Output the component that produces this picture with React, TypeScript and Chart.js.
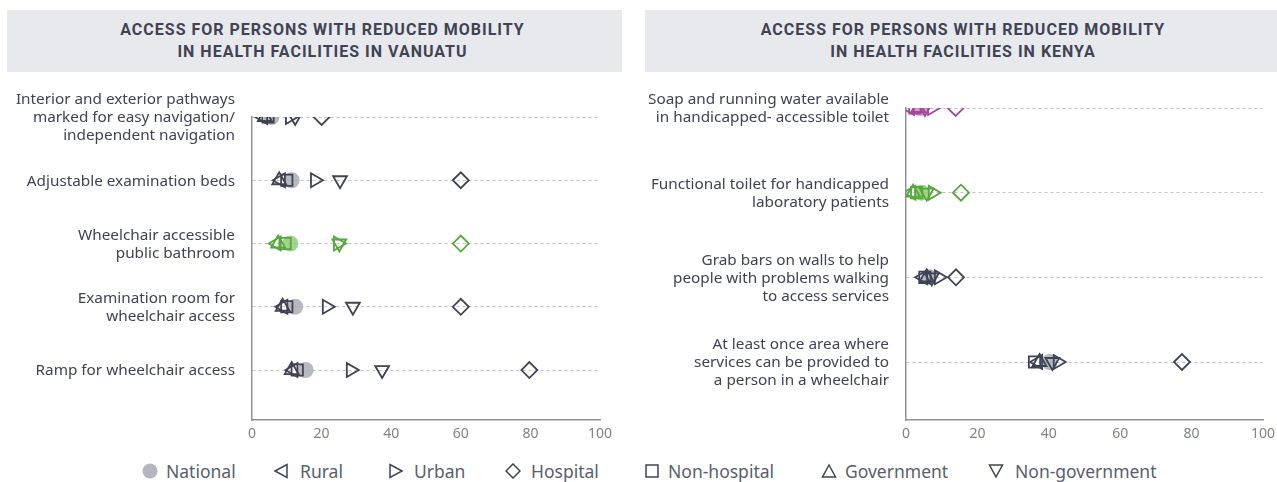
import React, { useEffect, useRef } from 'react';
import { Chart, registerables } from 'chart.js';

Chart.register(...registerables);

// ---------- Vanuatu ----------
const vanuatuCategories: (string | string[])[] = [
  ['Interior and exterior pathways', 'marked for easy navigation/', 'independent navigation'],
  'Adjustable examination beds',
  ['Wheelchair accessible', 'public bathroom'],
  ['Examination room for', 'wheelchair access'],
  'Ramp for wheelchair access',
];
const vanuatuNational = [5.6, 11.4, 11, 12.4, 15.4];
const vanuatuRural = [3.2, 8.3, 7.1, 9.0, 11.9];
const vanuatuUrban = [10.9, 18.1, 24.7, 21.5, 28.4];
const vanuatuHospital = [20, 60, 60, 60, 79.7];
const vanuatuNonHospital = [4.6, 10, 9.5, 10, 13];
const vanuatuGovernment = [3.7, 7.8, 7.5, 8.8, 11.4];
const vanuatuNonGovernment = [12.4, 25.3, 25.1, 29, 37.4];
const vanuatuRowTheme = ['dark', 'dark', 'green', 'dark', 'dark'];

// ---------- Kenya ----------
const kenyaCategories: (string | string[])[] = [
  ['Soap and running water available', 'in handicapped- accessible toilet'],
  ['Functional toilet for handicapped', 'laboratory patients'],
  ['Grab bars on walls to help', 'people with problems walking', 'to access services'],
  ['At least once area where', 'services can be provided to', 'a person in a wheelchair'],
];
const kenyaNational = [3.9, 4.4, 6.5, 40.2];
const kenyaRural = [1.1, 1.5, 4.8, 37];
const kenyaUrban = [7.3, 7.5, 9.2, 42.5];
const kenyaHospital = [13.9, 15.4, 14, 77.3];
const kenyaNonHospital = [2.5, 3, 5.3, 36];
const kenyaGovernment = [3.4, 2, 5.8, 37.4];
const kenyaNonGovernment = [5.3, 5.8, 7.2, 41];
const kenyaRowTheme = ['purple', 'green', 'dark', 'dark'];

const xTicks = [0, 20, 40, 60, 80, 100];
const seriesNames = ['National', 'Rural', 'Urban', 'Hospital', 'Non-hospital', 'Government', 'Non-government'];

const STROKE: Record<string, string> = { dark: '#3f4354', green: '#55a83a', purple: '#a3479c' };
const FILL: Record<string, string> = { dark: 'rgba(165,167,176,0.8)', green: 'rgba(140,200,115,0.8)', purple: 'rgba(195,135,190,0.8)' };

const TEXT = '#3f4354';
const FONT = "'Noto Sans', 'Open Sans', sans-serif";

type Cfg = {
  categories: (string | string[])[];
  series: number[][];
  theme: string[];
  yMax: number;
  axisWidth: number;
  padTop: number;
  padRight: number;
};

const styles = [
  { pointStyle: 'circle', rotation: 0 },
  { pointStyle: 'triangle', rotation: -90 },
  { pointStyle: 'triangle', rotation: 90 },
  { pointStyle: 'rectRot', rotation: 0 },
  { pointStyle: 'rect', rotation: 0 },
  { pointStyle: 'triangle', rotation: 0 },
  { pointStyle: 'triangle', rotation: 180 },
];

function DotChart({ cfg }: { cfg: Cfg }) {
  const ref = useRef<HTMLCanvasElement>(null);
  useEffect(() => {
    if (!ref.current) return;
    const datasets = cfg.series.map((vals, si) => {
      const isNat = si === 0;
      return {
        label: seriesNames[si],
        data: vals.map((v, i) => ({ x: v, y: i })),
        pointStyle: styles[si].pointStyle as any,
        rotation: styles[si].rotation,
        pointRadius: 8,
        pointBackgroundColor: isNat ? cfg.theme.map((t) => FILL[t]) : 'rgba(0,0,0,0)',
        pointBorderColor: cfg.theme.map((t) => STROKE[t]),
        pointBorderWidth: isNat ? 0 : 1.8,
        showLine: false,
        order: isNat ? 10 : 0,
      };
    });
    const chart = new Chart(ref.current, {
      type: 'scatter',
      data: { datasets },
      options: {
        animation: false,
        responsive: true,
        maintainAspectRatio: false,
        events: [],
        layout: { padding: { top: cfg.padTop, right: cfg.padRight, left: 0, bottom: 0 } },
        plugins: { legend: { display: false }, tooltip: { enabled: false } },
        scales: {
          x: {
            type: 'linear',
            min: 0,
            max: 100,
            grid: { display: false, drawTicks: false },
            border: { display: true, color: '#8f919b', width: 1.5 },
            ticks: {
              stepSize: 20,
              padding: 6,
              color: '#7f828c',
              font: { family: FONT, size: 14 },
            },
            afterBuildTicks: (scale: any) => {
              scale.ticks = xTicks.map((v) => ({ value: v }));
            },
            afterFit: (scale: any) => {
              scale.height = 22;
              scale.paddingLeft = 0;
              scale.paddingRight = 0;
              scale.paddingTop = 0;
              scale.paddingBottom = 0;
            },
          },
          y: {
            type: 'linear',
            reverse: true,
            min: 0,
            max: cfg.yMax,
            grid: { display: true, drawTicks: false, color: '#c3c4ca', lineWidth: 1 },
            border: { display: true, color: '#8f919b', width: 1.5, dash: [3, 3] },
            ticks: {
              padding: 17,
              labelOffset: 1,
              color: TEXT,
              font: { family: FONT, size: 15.3, lineHeight: 1.18 },
              callback: (v: any) => cfg.categories[v as number] as any,
            },
            afterBuildTicks: (scale: any) => {
              scale.ticks = cfg.categories.map((_, i) => ({ value: i }));
            },
            afterFit: (scale: any) => {
              scale.width = cfg.axisWidth;
              scale.paddingLeft = 0;
              scale.paddingRight = 0;
              scale.paddingTop = 0;
              scale.paddingBottom = 0;
            },
          },
        },
      },
    });
    return () => chart.destroy();
  }, [cfg]);
  return <canvas ref={ref} />;
}

const vanuatuCfg: Cfg = {
  categories: vanuatuCategories,
  series: [vanuatuNational, vanuatuRural, vanuatuUrban, vanuatuHospital, vanuatuNonHospital, vanuatuGovernment, vanuatuNonGovernment],
  theme: vanuatuRowTheme,
  yMax: 4.79,
  axisWidth: 252,
  padTop: 45,
  padRight: 20,
};

const kenyaCfg: Cfg = {
  categories: kenyaCategories,
  series: [kenyaNational, kenyaRural, kenyaUrban, kenyaHospital, kenyaNonHospital, kenyaGovernment, kenyaNonGovernment],
  theme: kenyaRowTheme,
  yMax: 3.685,
  axisWidth: 266,
  padTop: 36,
  padRight: 14,
};

function Icon({ kind }: { kind: number }) {
  const s = '#3f4354';
  const sw = 1.5;
  let shape: React.ReactNode = null;
  if (kind === 0) shape = <circle cx="8" cy="8" r="7.5" fill="#b4b6bd" />;
  if (kind === 1) shape = <polygon points="2,8 14,1.5 14,14.5" fill="none" stroke={s} strokeWidth={sw} />;
  if (kind === 2) shape = <polygon points="14,8 2,1.5 2,14.5" fill="none" stroke={s} strokeWidth={sw} />;
  if (kind === 3) shape = <polygon points="8,1 15,8 8,15 1,8" fill="none" stroke={s} strokeWidth={sw} />;
  if (kind === 4) shape = <rect x="2" y="2" width="12" height="12" fill="none" stroke={s} strokeWidth={sw} />;
  if (kind === 5) shape = <polygon points="8,2 14.5,14 1.5,14" fill="none" stroke={s} strokeWidth={sw} />;
  if (kind === 6) shape = <polygon points="8,14 14.5,2 1.5,2" fill="none" stroke={s} strokeWidth={sw} />;
  return (
    <svg width="16" height="16" viewBox="0 0 16 16" style={{ display: 'block' }}>
      {shape}
    </svg>
  );
}

const legendIconCenters = [150, 281, 396, 513, 652, 829, 996];
const legendTextGap = [8, 11, 10, 10, 8, 8, 11];

const titleStyle: React.CSSProperties = {
  position: 'absolute',
  top: 10,
  height: 62,
  background: '#e8e9ed',
  color: TEXT,
  fontFamily: "Roboto, 'Noto Sans', sans-serif",
  fontWeight: 700,
  fontSize: 16,
  letterSpacing: 1,
  lineHeight: '22px',
  textAlign: 'center',
  display: 'flex',
  flexDirection: 'column',
  justifyContent: 'center',
  boxSizing: 'border-box',
};

export default function App() {
  return (
    <div style={{ position: 'absolute', left: 0, top: 0, width: 1277, height: 482, background: '#fff', overflow: 'hidden' }}>
      <div style={{ ...titleStyle, left: 7, width: 615, paddingLeft: 16 }}>
        <div>ACCESS FOR PERSONS WITH REDUCED MOBILITY</div>
        <div>IN HEALTH FACILITIES IN VANUATU</div>
      </div>
      <div style={{ ...titleStyle, left: 645, width: 632, paddingLeft: 4 }}>
        <div>ACCESS FOR PERSONS WITH REDUCED MOBILITY</div>
        <div>IN HEALTH FACILITIES IN KENYA</div>
      </div>
      <div style={{ position: 'absolute', left: 0, top: 72, width: 620, height: 370 }}>
        <DotChart cfg={vanuatuCfg} />
      </div>
      <div style={{ position: 'absolute', left: 640, top: 72, width: 637, height: 370 }}>
        <DotChart cfg={kenyaCfg} />
      </div>
      {seriesNames.map((n, i) => (
        <div
          key={n}
          style={{
            position: 'absolute',
            left: legendIconCenters[i] - 8,
            top: 459,
            height: 24,
            display: 'flex',
            alignItems: 'center',
            gap: legendTextGap[i],
            fontFamily: FONT,
            fontSize: 17.5,
            color: '#5a5e6c',
            whiteSpace: 'nowrap',
          }}
        >
          <Icon kind={i} />
          <span>{n}</span>
        </div>
      ))}
    </div>
  );
}
